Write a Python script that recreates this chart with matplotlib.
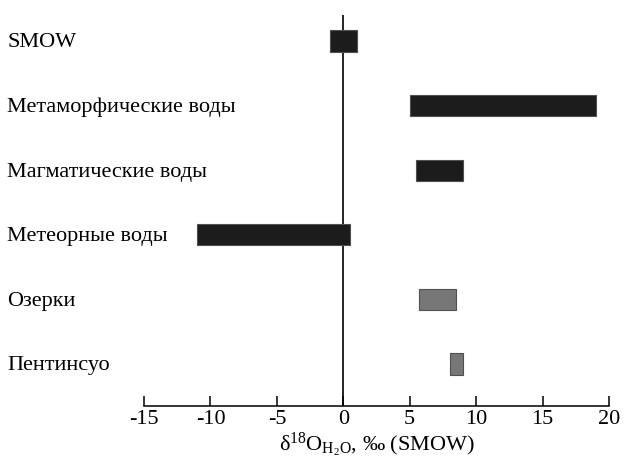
import matplotlib
matplotlib.use('Agg')
import matplotlib.pyplot as plt
import matplotlib.transforms as mtransforms

plt.rcParams['font.family'] = ['Liberation Serif', 'DejaVu Serif']
plt.rcParams['mathtext.fontset'] = 'custom'
plt.rcParams['mathtext.rm'] = 'Liberation Serif'
plt.rcParams['mathtext.it'] = 'Liberation Serif:italic'

# data: delta 18O ranges, top to bottom
names = ['SMOW', 'Метаморфические воды', 'Магматические воды',
         'Метеорные воды', 'Озерки', 'Пентинсуо']
low = [-1.0, 5.0, 5.5, -11.0, 5.7, 8.0]
high = [1.0, 19.0, 9.0, 0.5, 8.5, 9.0]
colors = ['#1c1c1c', '#1c1c1c', '#1c1c1c', '#1c1c1c', '#777777', '#777777']
xticks = [-15, -10, -5, 0, 5, 10, 15, 20]
xticklabels = ['-15', '-10', '-5', '0', '5', '10', '15', '20']


def main():
    fig = plt.figure(figsize=(6.24, 4.59), dpi=100)
    ax = fig.add_axes([0.2308, 0.1155, 0.976 - 0.2308, 0.967 - 0.1155])

    n = len(names)
    ypos = [n - 1 - i for i in range(n)]
    widths = [h - l for l, h in zip(low, high)]
    ax.barh(ypos, widths, left=low, height=0.33, color=colors,
            edgecolor='#505050', linewidth=0.8, zorder=3)
    ax.axvline(0, color='black', lw=1.2, zorder=2)

    ax.set_xlim(-15, 20)
    ax.set_ylim(-0.65, n - 1 + 0.40)
    for s in ['top', 'left', 'right']:
        ax.spines[s].set_visible(False)
    ax.spines['bottom'].set_linewidth(1.1)
    ax.set_yticks([])
    ax.set_xticks(xticks)
    ax.set_xticklabels(xticklabels, fontsize=16)
    ax.tick_params(axis='x', direction='in', length=7, width=1.1, pad=3)
    ax.set_xlabel(r'δ$^{18}$O$_{\mathrm{H_2O}}$, ‰ (SMOW)', fontsize=16, labelpad=1)

    trans = mtransforms.blended_transform_factory(fig.transFigure, ax.transData)
    for name, y in zip(names, ypos):
        ax.text(0.012, y - 0.03, name, transform=trans, ha='left', va='center',
                fontsize=16)

    fig.savefig('out.png', dpi=100)


if __name__ == '__main__':
    main()
